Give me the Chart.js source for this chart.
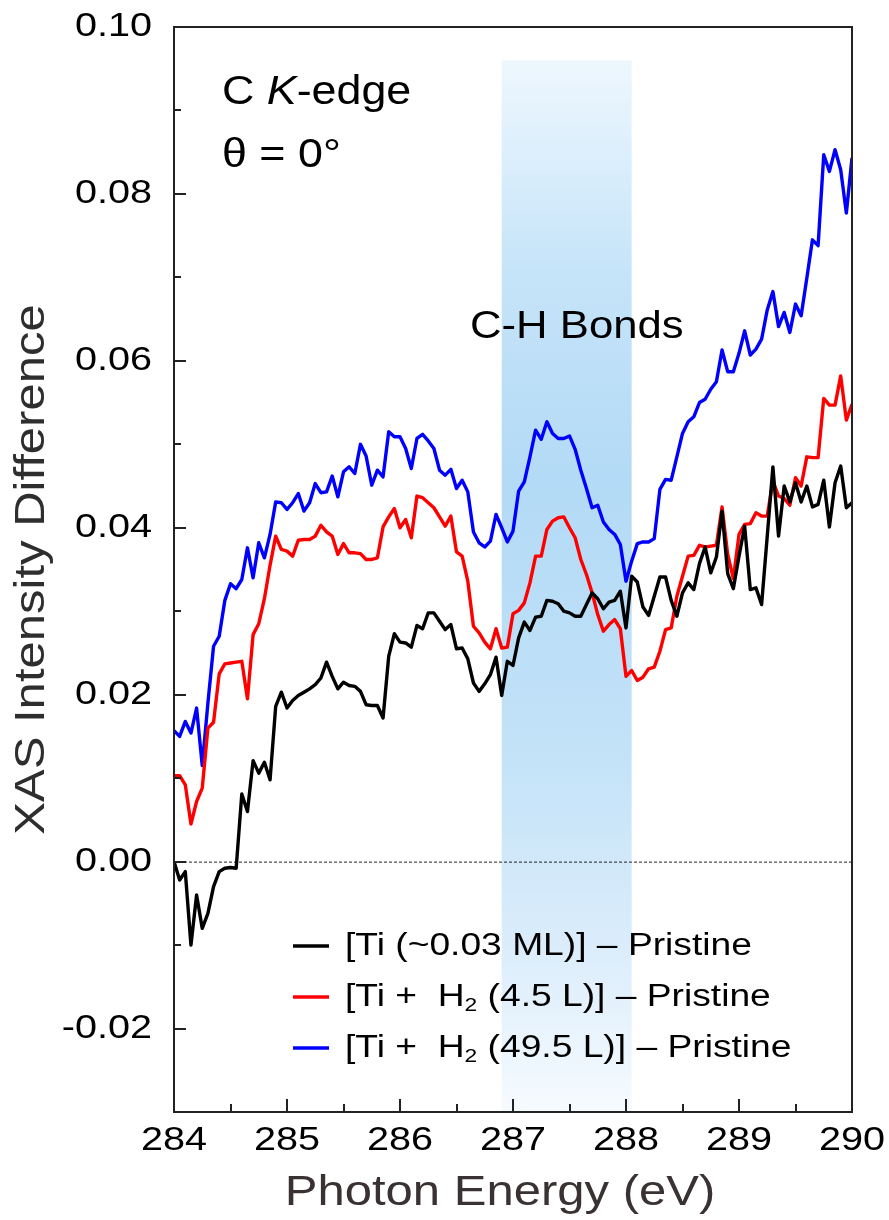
<!DOCTYPE html>
<html>
<head>
<meta charset="utf-8">
<script src="https://cdn.jsdelivr.net/npm/chart.js@4.4.1/dist/chart.umd.min.js"></script>
<style>
html, body { margin: 0; padding: 0; background: #fff; }
#wrap { width: 889px; height: 1220px; }
</style>
</head>
<body>
<div id="wrap"><canvas id="Chart" width="889" height="1220"></canvas></div>
<script>
// photon energy grid (eV)
const energy = [
    284.00, 284.05, 284.10, 284.15, 284.20, 284.25, 284.30, 284.35, 284.40, 284.45,
    284.50, 284.55, 284.60, 284.65, 284.70, 284.75, 284.80, 284.85, 284.90, 284.95,
    285.00, 285.05, 285.10, 285.15, 285.20, 285.25, 285.30, 285.35, 285.40, 285.45,
    285.50, 285.55, 285.60, 285.65, 285.70, 285.75, 285.80, 285.85, 285.90, 285.95,
    286.00, 286.05, 286.10, 286.15, 286.20, 286.25, 286.30, 286.35, 286.40, 286.45,
    286.50, 286.55, 286.60, 286.65, 286.70, 286.75, 286.80, 286.85, 286.90, 286.95,
    287.00, 287.05, 287.10, 287.15, 287.20, 287.25, 287.30, 287.35, 287.40, 287.45,
    287.50, 287.55, 287.60, 287.65, 287.70, 287.75, 287.80, 287.85, 287.90, 287.95,
    288.00, 288.05, 288.10, 288.15, 288.20, 288.25, 288.30, 288.35, 288.40, 288.45,
    288.50, 288.55, 288.60, 288.65, 288.70, 288.75, 288.80, 288.85, 288.90, 288.95,
    289.00, 289.05, 289.10, 289.15, 289.20, 289.25, 289.30, 289.35, 289.40, 289.45,
    289.50, 289.55, 289.60, 289.65, 289.70, 289.75, 289.80, 289.85, 289.90, 289.95,
    290.00
];

// [Ti (~0.03 ML)] - Pristine
const tiOnly = [
    0.0000, -0.0022, -0.0012, -0.0100, -0.0040, -0.0080, -0.0062, -0.0030, -0.0012, -0.0008,
    -0.0007, -0.0008, 0.0081, 0.0060, 0.0121, 0.0106, 0.0119, 0.0098, 0.0186, 0.0203,
    0.0184, 0.0193, 0.0199, 0.0203, 0.0207, 0.0212, 0.0220, 0.0239, 0.0222, 0.0207,
    0.0215, 0.0211, 0.0210, 0.0204, 0.0188, 0.0187, 0.0187, 0.0172, 0.0246, 0.0273,
    0.0263, 0.0262, 0.0257, 0.0283, 0.0279, 0.0298, 0.0298, 0.0288, 0.0278, 0.0284,
    0.0255, 0.0256, 0.0243, 0.0214, 0.0204, 0.0213, 0.0224, 0.0245, 0.0199, 0.0240,
    0.0235, 0.0268, 0.0287, 0.0277, 0.0293, 0.0294, 0.0313, 0.0312, 0.0309, 0.0300,
    0.0298, 0.0294, 0.0294, 0.0308, 0.0322, 0.0315, 0.0303, 0.0311, 0.0313, 0.0324,
    0.0280, 0.0342, 0.0335, 0.0305, 0.0295, 0.0318, 0.0341, 0.0341, 0.0313, 0.0294,
    0.0322, 0.0334, 0.0326, 0.0357, 0.0377, 0.0346, 0.0365, 0.0420, 0.0345, 0.0327,
    0.0366, 0.0402, 0.0326, 0.0328, 0.0308, 0.0390, 0.0473, 0.0390, 0.0450, 0.0431,
    0.0454, 0.0431, 0.0450, 0.0425, 0.0428, 0.0457, 0.0401, 0.0454, 0.0474, 0.0424,
    0.0430
];

// [Ti + H2 (4.5 L)] - Pristine
const tiH2Low = [
    0.0103, 0.0103, 0.0092, 0.0045, 0.0072, 0.0088, 0.0160, 0.0167, 0.0225, 0.0237,
    0.0238, 0.0239, 0.0240, 0.0195, 0.0272, 0.0285, 0.0315, 0.0355, 0.0390, 0.0374,
    0.0372, 0.0366, 0.0385, 0.0386, 0.0386, 0.0390, 0.0403, 0.0395, 0.0390, 0.0368,
    0.0381, 0.0370, 0.0370, 0.0369, 0.0362, 0.0362, 0.0364, 0.0401, 0.0413, 0.0423,
    0.0400, 0.0410, 0.0388, 0.0438, 0.0436, 0.0430, 0.0424, 0.0413, 0.0402, 0.0414,
    0.0371, 0.0366, 0.0336, 0.0282, 0.0274, 0.0263, 0.0255, 0.0279, 0.0256, 0.0257,
    0.0297, 0.0301, 0.0310, 0.0334, 0.0366, 0.0366, 0.0398, 0.0408, 0.0412, 0.0413,
    0.0400, 0.0388, 0.0362, 0.0344, 0.0322, 0.0296, 0.0276, 0.0284, 0.0290, 0.0279,
    0.0222, 0.0229, 0.0217, 0.0221, 0.0231, 0.0233, 0.0252, 0.0278, 0.0280, 0.0318,
    0.0342, 0.0366, 0.0367, 0.0379, 0.0377, 0.0378, 0.0379, 0.0425, 0.0368, 0.0339,
    0.0392, 0.0404, 0.0405, 0.0418, 0.0414, 0.0414, 0.0456, 0.0438, 0.0435, 0.0427,
    0.0460, 0.0450, 0.0485, 0.0484, 0.0484, 0.0555, 0.0547, 0.0547, 0.0582, 0.0529,
    0.0548
];

// [Ti + H2 (49.5 L)] - Pristine
const tiH2High = [
    0.0157, 0.0150, 0.0168, 0.0154, 0.0184, 0.0115, 0.0190, 0.0258, 0.0270, 0.0313,
    0.0333, 0.0327, 0.0338, 0.0376, 0.0340, 0.0382, 0.0364, 0.0392, 0.0431, 0.0430,
    0.0422, 0.0430, 0.0441, 0.0420, 0.0430, 0.0453, 0.0442, 0.0443, 0.0462, 0.0437,
    0.0467, 0.0473, 0.0465, 0.0500, 0.0486, 0.0451, 0.0469, 0.0461, 0.0515, 0.0509,
    0.0509, 0.0495, 0.0471, 0.0507, 0.0512, 0.0504, 0.0495, 0.0469, 0.0463, 0.0470,
    0.0447, 0.0457, 0.0443, 0.0395, 0.0382, 0.0377, 0.0384, 0.0416, 0.0400, 0.0383,
    0.0396, 0.0444, 0.0455, 0.0485, 0.0517, 0.0506, 0.0527, 0.0513, 0.0507, 0.0507,
    0.0510, 0.0494, 0.0469, 0.0447, 0.0424, 0.0427, 0.0407, 0.0398, 0.0392, 0.0380,
    0.0336, 0.0360, 0.0381, 0.0383, 0.0383, 0.0387, 0.0446, 0.0458, 0.0457, 0.0485,
    0.0513, 0.0527, 0.0533, 0.0550, 0.0554, 0.0566, 0.0575, 0.0613, 0.0587, 0.0587,
    0.0609, 0.0636, 0.0607, 0.0614, 0.0626, 0.0661, 0.0683, 0.0641, 0.0658, 0.0634,
    0.0668, 0.0654, 0.0699, 0.0745, 0.0738, 0.0847, 0.0827, 0.0853, 0.0829, 0.0777,
    0.0843
];

const seriesLabels = ['[Ti (~0.03 ML)] – Pristine', '[Ti +  H₂ (4.5 L)] – Pristine', '[Ti +  H₂ (49.5 L)] – Pristine'];
const seriesColors = ['#000000', '#ff0000', '#0000ff'];
const bandRange = [286.9, 288.05];
const bandTop = 0.096;

const FONT = '"Liberation Sans", Arial, sans-serif';

// draws text runs stretched horizontally by sx
function drawRuns(ctx, runs, x, y, align, sx) {
    ctx.save();
    let total = 0;
    runs.forEach(r => {
        ctx.font = r.font;
        r.w = ctx.measureText(r.t).width;
        total += r.w;
    });
    let pos = align === 'right' ? -total : (align === 'center' ? -total / 2 : 0);
    ctx.translate(x, y);
    ctx.scale(sx, 1);
    ctx.textAlign = 'left';
    ctx.textBaseline = 'middle';
    runs.forEach(r => {
        ctx.font = r.font;
        ctx.fillStyle = r.color || '#000';
        ctx.fillText(r.t, pos, r.dy || 0);
        pos += r.w;
    });
    ctx.restore();
}

// label text -> runs, "₂" gets drawn as a small lowered 2
function labelRuns(label, size) {
    const runs = [];
    label.split('₂').forEach((part, i) => {
        if (i > 0) runs.push({ t: '2', font: Math.round(size * 0.6) + 'px ' + FONT, dy: size * 0.28 });
        runs.push({ t: part, font: size + 'px ' + FONT });
    });
    return runs;
}

const isMajorY = v => Math.round(v * 100) % 2 === 0;

const decorations = {
    id: 'decorations',
    beforeDraw(chart) {
        const ctx = chart.ctx;
        ctx.save();
        ctx.fillStyle = '#fff';
        ctx.fillRect(0, 0, chart.width, chart.height);
        ctx.restore();
    },
    beforeDatasetsDraw(chart) {
        const { ctx, chartArea: a, scales: { x, y } } = chart;
        ctx.save();
        const x0 = x.getPixelForValue(bandRange[0]);
        const x1 = x.getPixelForValue(bandRange[1]);
        const yt = y.getPixelForValue(bandTop);
        const g = ctx.createLinearGradient(0, yt, 0, a.bottom);
        g.addColorStop(0, '#eef7fe');
        g.addColorStop(0.2, '#c6e4f9');
        g.addColorStop(0.4, '#b3daf6');
        g.addColorStop(0.65, '#c2e2f8');
        g.addColorStop(0.85, '#dcedfb');
        g.addColorStop(1, '#f6fbff');
        ctx.fillStyle = g;
        ctx.fillRect(x0, yt, x1 - x0, a.bottom - yt);

        // zero line
        const y0 = y.getPixelForValue(0);
        ctx.strokeStyle = '#222';
        ctx.lineWidth = 1;
        ctx.setLineDash([3, 2]);
        ctx.beginPath();
        ctx.moveTo(a.left, y0 + 0.5);
        ctx.lineTo(a.right, y0 + 0.5);
        ctx.stroke();
        ctx.restore();
    },
    afterDatasetsDraw(chart) {
        const { ctx, chartArea: a, scales: { x, y } } = chart;
        ctx.save();
        ctx.strokeStyle = '#222';
        ctx.lineWidth = 2;
        ctx.strokeRect(a.left, a.top, a.right - a.left, a.bottom - a.top);
        ctx.beginPath();
        x.ticks.forEach(t => {
            const px = Math.round(x.getPixelForValue(t.value));
            const len = Number.isInteger(t.value) ? 13 : 8;
            ctx.moveTo(px, a.bottom);
            ctx.lineTo(px, a.bottom - len);
        });
        y.ticks.forEach(t => {
            const py = Math.round(y.getPixelForValue(t.value));
            const len = isMajorY(t.value) ? 12 : 7;
            ctx.moveTo(a.left, py);
            ctx.lineTo(a.left + len, py);
        });
        ctx.stroke();
        ctx.restore();
    },
    afterDraw(chart) {
        const { ctx, chartArea: a, scales: { x, y } } = chart;
        const tickFont = '33px ' + FONT;
        y.ticks.forEach(t => {
            if (!isMajorY(t.value)) return;
            drawRuns(ctx, [{ t: t.value.toFixed(2), font: tickFont }], a.left - 22, y.getPixelForValue(t.value), 'right', 1.2);
        });
        x.ticks.forEach(t => {
            if (!Number.isInteger(t.value)) return;
            drawRuns(ctx, [{ t: String(t.value), font: tickFont }], x.getPixelForValue(t.value), 1141, 'center', 1.2);
        });

        // axis titles
        drawRuns(ctx, [{ t: 'Photon Energy (eV)', font: '43px ' + FONT, color: '#3a3232' }], 500, 1193, 'center', 1.14);
        ctx.save();
        ctx.translate(32, (a.top + a.bottom) / 2);
        ctx.rotate(-Math.PI / 2);
        drawRuns(ctx, [{ t: 'XAS Intensity Difference', font: '43px ' + FONT, color: '#2e2e2e' }], 0, 0, 'center', 1.14);
        ctx.restore();

        // annotations
        drawRuns(ctx, [
            { t: 'C ', font: '40px ' + FONT },
            { t: 'K', font: 'italic 40px ' + FONT },
            { t: '-edge', font: '40px ' + FONT }
        ], 222, 93, 'left', 1.12);
        drawRuns(ctx, [{ t: 'θ = 0°', font: '40px ' + FONT }], 222, 156, 'left', 1.12);
        drawRuns(ctx, [{ t: 'C-H Bonds', font: '39px ' + FONT }], 470, 327, 'left', 1.12);

        // legend
        const rows = [946, 997, 1048];
        seriesLabels.forEach((lab, i) => {
            ctx.save();
            ctx.strokeStyle = seriesColors[i];
            ctx.lineWidth = 3.4;
            ctx.beginPath();
            ctx.moveTo(293, rows[i]);
            ctx.lineTo(329, rows[i]);
            ctx.stroke();
            ctx.restore();
            drawRuns(ctx, labelRuns(lab, 31), 345, rows[i], 'left', 1.2);
        });
    }
};

const ctx = document.getElementById('Chart').getContext('2d');
const seriesData = [tiOnly, tiH2Low, tiH2High];

new Chart(ctx, {
    type: 'line',
    data: {
        datasets: seriesData.map((s, i) => ({
            label: seriesLabels[i],
            data: energy.map((e, j) => ({ x: e, y: s[j] })),
            borderColor: seriesColors[i],
            backgroundColor: seriesColors[i],
            borderWidth: 3.4,
            borderJoinStyle: 'round',
            pointRadius: 0,
            tension: 0,
            fill: false
        }))
    },
    options: {
        responsive: false,
        animation: false,
        devicePixelRatio: 1,
        layout: { padding: { top: 27, right: 37, left: 0, bottom: 0 } },
        plugins: { legend: { display: false }, tooltip: { enabled: false } },
        scales: {
            x: {
                type: 'linear',
                min: 284,
                max: 290,
                ticks: { stepSize: 0.5, display: false, autoSkip: false },
                grid: { display: false, drawTicks: false },
                border: { display: false },
                afterFit: s => { s.height = 108; }
            },
            y: {
                min: -0.03,
                max: 0.10,
                ticks: { stepSize: 0.01, display: false, autoSkip: false },
                grid: { display: false, drawTicks: false },
                border: { display: false },
                afterFit: s => { s.width = 174; }
            }
        }
    },
    plugins: [decorations]
});
</script>
</body>
</html>
